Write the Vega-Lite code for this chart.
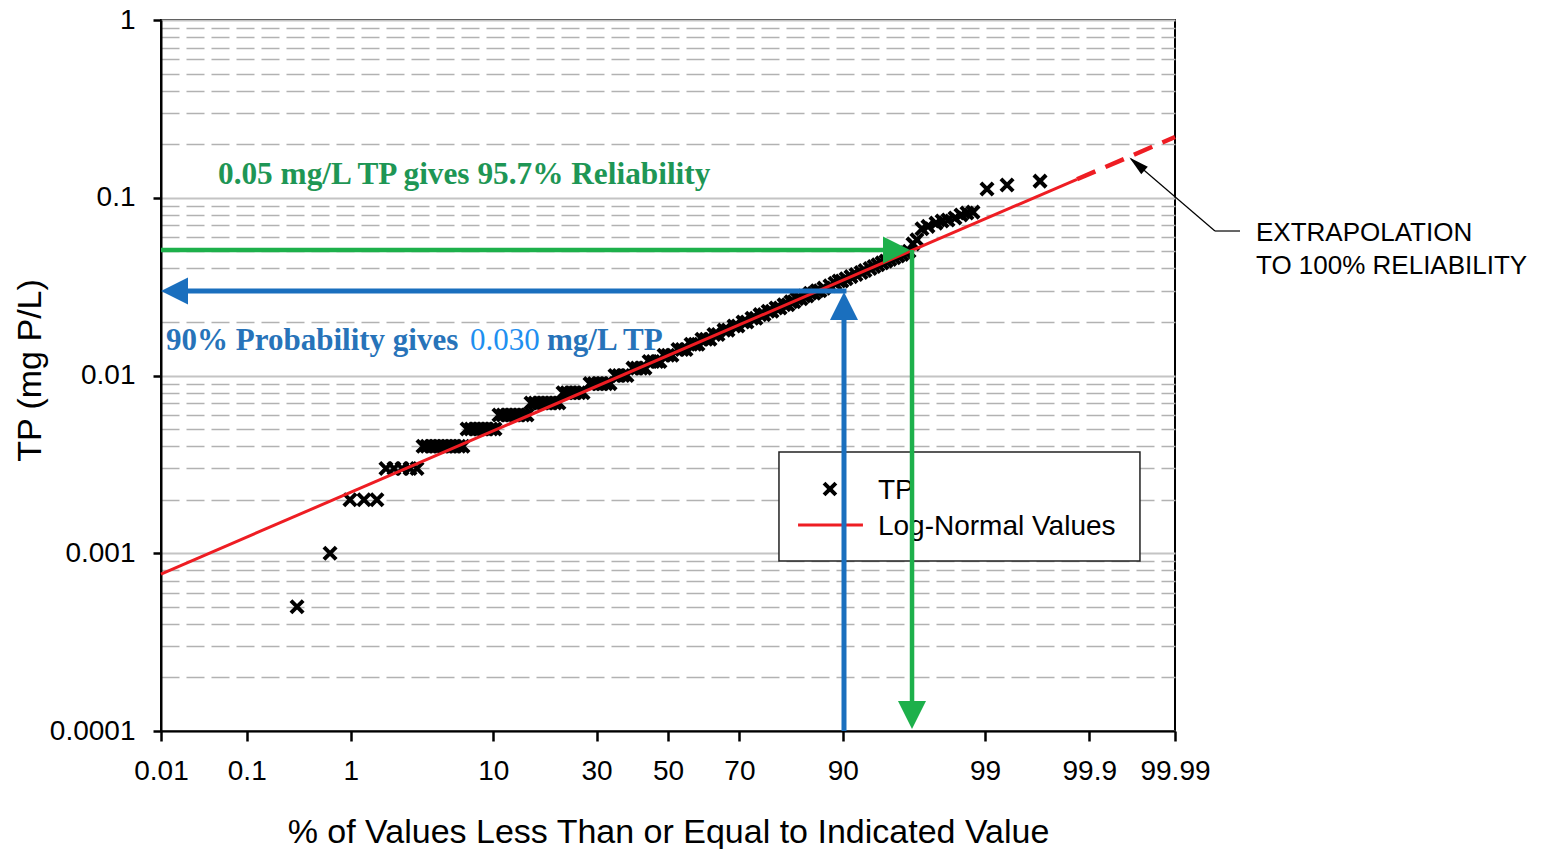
{
"$schema": "https://vega.github.io/schema/vega-lite/v6.json",
"width": 1014, "height": 711,
"autosize": {"type": "none"},
"padding": {"left": 161, "top": 20, "right": 376, "bottom": 118},
"background": "white",
"config": {"view": {"stroke": "black", "strokeWidth": 2}},
"datasets": {
"tp": [
{"z":-2.721,"tp":0.0005},{"z":-2.479,"tp":0.001},
{"z":-2.333,"tp":0.002},{"z":-2.230,"tp":0.002},{"z":-2.135,"tp":0.002},
{"z":-2.069,"tp":0.003},{"z":-2.010,"tp":0.003},{"z":-1.951,"tp":0.003},{"z":-1.892,"tp":0.003},{"z":-1.841,"tp":0.003},
{"z":-1.797,"tp":0.004},{"z":-1.768,"tp":0.004},{"z":-1.738,"tp":0.004},{"z":-1.709,"tp":0.004},{"z":-1.680,"tp":0.004},{"z":-1.650,"tp":0.004},{"z":-1.621,"tp":0.004},{"z":-1.592,"tp":0.004},{"z":-1.562,"tp":0.004},{"z":-1.533,"tp":0.004},{"z":-1.504,"tp":0.004},
{"z":-1.474,"tp":0.005},{"z":-1.445,"tp":0.005},{"z":-1.416,"tp":0.005},{"z":-1.386,"tp":0.005},{"z":-1.357,"tp":0.005},{"z":-1.328,"tp":0.005},{"z":-1.298,"tp":0.005},{"z":-1.269,"tp":0.005},
{"z":-1.240,"tp":0.006},{"z":-1.210,"tp":0.006},{"z":-1.181,"tp":0.006},{"z":-1.152,"tp":0.006},{"z":-1.122,"tp":0.006},{"z":-1.093,"tp":0.006},{"z":-1.064,"tp":0.006},{"z":-1.034,"tp":0.006},
{"z":-1.005,"tp":0.007},{"z":-0.976,"tp":0.007},{"z":-0.946,"tp":0.007},{"z":-0.917,"tp":0.007},{"z":-0.888,"tp":0.007},{"z":-0.858,"tp":0.007},{"z":-0.829,"tp":0.007},{"z":-0.800,"tp":0.007},
{"z":-0.770,"tp":0.008},{"z":-0.741,"tp":0.008},{"z":-0.712,"tp":0.008},{"z":-0.682,"tp":0.008},{"z":-0.653,"tp":0.008},{"z":-0.623,"tp":0.008},
{"z":-0.572,"tp":0.009},{"z":-0.543,"tp":0.009},{"z":-0.513,"tp":0.009},{"z":-0.484,"tp":0.009},{"z":-0.455,"tp":0.009},{"z":-0.425,"tp":0.009},
{"z":-0.389,"tp":0.010},{"z":-0.359,"tp":0.010},{"z":-0.330,"tp":0.010},{"z":-0.301,"tp":0.010},
{"z":-0.257,"tp":0.011},{"z":-0.227,"tp":0.011},{"z":-0.198,"tp":0.011},{"z":-0.169,"tp":0.011},
{"z":-0.139,"tp":0.012},{"z":-0.110,"tp":0.012},{"z":-0.081,"tp":0.012},{"z":-0.059,"tp":0.012},
{"z":-0.029,"tp":0.013},{"z":0.000,"tp":0.013},{"z":0.029,"tp":0.013},
{"z":0.073,"tp":0.014},{"z":0.103,"tp":0.014},{"z":0.132,"tp":0.014},
{"z":0.169,"tp":0.015},{"z":0.198,"tp":0.015},{"z":0.220,"tp":0.015},
{"z":0.249,"tp":0.016},{"z":0.279,"tp":0.016},{"z":0.308,"tp":0.016},
{"z":0.337,"tp":0.017},{"z":0.367,"tp":0.017},
{"z":0.411,"tp":0.018},{"z":0.440,"tp":0.018},
{"z":0.484,"tp":0.019},{"z":0.513,"tp":0.019},
{"z":0.550,"tp":0.020},{"z":0.579,"tp":0.020},
{"z":0.616,"tp":0.021},{"z":0.645,"tp":0.021},
{"z":0.675,"tp":0.022},{"z":0.704,"tp":0.022},
{"z":0.734,"tp":0.023},{"z":0.763,"tp":0.023},
{"z":0.792,"tp":0.024},{"z":0.822,"tp":0.024},
{"z":0.851,"tp":0.025},{"z":0.880,"tp":0.025},
{"z":0.902,"tp":0.026},{"z":0.924,"tp":0.026},
{"z":0.946,"tp":0.027},{"z":0.976,"tp":0.027},
{"z":0.998,"tp":0.028},{"z":1.020,"tp":0.028},
{"z":1.042,"tp":0.029},{"z":1.071,"tp":0.029},
{"z":1.093,"tp":0.030},{"z":1.115,"tp":0.030},
{"z":1.144,"tp":0.031},{"z":1.188,"tp":0.032},{"z":1.225,"tp":0.033},
{"z":1.254,"tp":0.034},{"z":1.276,"tp":0.034},
{"z":1.306,"tp":0.035},{"z":1.342,"tp":0.036},{"z":1.379,"tp":0.037},{"z":1.416,"tp":0.038},{"z":1.445,"tp":0.039},
{"z":1.482,"tp":0.040},{"z":1.511,"tp":0.041},{"z":1.540,"tp":0.042},{"z":1.570,"tp":0.043},{"z":1.599,"tp":0.044},
{"z":1.628,"tp":0.045},{"z":1.658,"tp":0.046},{"z":1.687,"tp":0.047},{"z":1.716,"tp":0.048},{"z":1.746,"tp":0.049},
{"z":1.768,"tp":0.050},{"z":1.797,"tp":0.055},{"z":1.826,"tp":0.058},
{"z":1.863,"tp":0.067},{"z":1.907,"tp":0.069},{"z":1.966,"tp":0.072},{"z":2.010,"tp":0.074},{"z":2.054,"tp":0.075},
{"z":2.105,"tp":0.077},{"z":2.149,"tp":0.080},{"z":2.193,"tp":0.082},{"z":2.237,"tp":0.083},
{"z":2.340,"tp":0.112},{"z":2.487,"tp":0.118},{"z":2.729,"tp":0.124}
],
"fit": [{"z":-3.719,"tp":0.000764},{"z":3.0,"tp":0.127}],
"fitext": [{"z":3.0,"tp":0.127},{"z":3.719,"tp":0.2197}]
},
"layer": [
{
"data": {"name": "tp"},
"mark": {"type": "point", "shape": "M-1,-1L1,1M-1,1L1,-1", "filled": false, "color": "black", "strokeWidth": 4, "size": 150, "opacity": 1},
"encoding": {
"x": {"field": "z", "type": "quantitative", "scale": {"domain": [-3.719, 3.719], "nice": false, "zero": false},
"axis": {"values": [-3.719,-3.09,-2.326,-1.282,-0.524,0,0.524,1.282,2.326,3.09,3.719],
"labelExpr": "datum.value < -3.5 ? '0.01' : datum.value < -2.8 ? '0.1' : datum.value < -2 ? '1' : datum.value < -1 ? '10' : datum.value < -0.3 ? '30' : datum.value < 0.3 ? '50' : datum.value < 1 ? '70' : datum.value < 2 ? '90' : datum.value < 2.8 ? '99' : datum.value < 3.5 ? '99.9' : '99.99'",
"grid": false, "domainColor": "black", "domainWidth": 2, "tickColor": "black", "tickWidth": 2.5, "tickSize": 10,
"labelFont": "Liberation Sans", "labelFontSize": 28, "labelColor": "black", "labelPadding": 16, "labelFlush": false, "labelOverlap": false, "labelBound": false,
"title": "% of Values Less Than or Equal to Indicated Value", "titleFont": "Liberation Sans", "titleFontSize": 34, "titleFontWeight": "normal", "titleColor": "black", "titleX": 507, "titleY": 111, "titleBaseline": "alphabetic", "titleAlign": "center"}},
"y": {"field": "tp", "type": "quantitative", "scale": {"type": "log", "domain": [0.0001, 1], "nice": false},
"axis": {"values": [0.0001,0.0002,0.0003,0.0004,0.0005,0.0006,0.0007,0.0008,0.0009,0.001,0.002,0.003,0.004,0.005,0.006,0.007,0.008,0.009,0.01,0.02,0.03,0.04,0.05,0.06,0.07,0.08,0.09,0.1,0.2,0.3,0.4,0.5,0.6,0.7,0.8,0.9,1],
"format": "~g",
"labelExpr": "indexof([0.0001,0.001,0.01,0.1,1], datum.value) >= 0 ? datum.label : ''",
"grid": true,
"gridColor": {"condition": {"test": "indexof([0.0001,0.001,0.01,0.1,1], datum.value) >= 0", "value": "#c4c4c4"}, "value": "#b2b2b2"},
"gridDash": {"condition": {"test": "indexof([0.0001,0.001,0.01,0.1,1], datum.value) >= 0", "value": []}, "value": [18, 7]},
"gridWidth": {"condition": {"test": "indexof([0.0001,0.001,0.01,0.1,1], datum.value) >= 0", "value": 2}, "value": 1.6},
"tickOpacity": {"condition": {"test": "indexof([0.0001,0.001,0.01,0.1,1], datum.value) >= 0", "value": 1}, "value": 0},
"tickSize": 8, "tickWidth": 2.5, "tickColor": "black", "domainColor": "black", "domainWidth": 2,
"labelFont": "Liberation Sans", "labelFontSize": 28, "labelColor": "black", "labelPadding": 18, "labelOverlap": false, "labelBound": false, "labelFlush": false,
"title": "TP (mg P/L)", "titleFont": "Liberation Sans", "titleFontSize": 34, "titleFontWeight": "normal", "titleColor": "black", "titleX": -121, "titleY": 350, "titleAngle": 270, "titleAlign": "center", "titleBaseline": "alphabetic"}}
}
},
{
"data": {"name": "fit"},
"mark": {"type": "line", "color": "#ee1d23", "strokeWidth": 3},
"encoding": {"x": {"field": "z", "type": "quantitative"}, "y": {"field": "tp", "type": "quantitative", "scale": {"type": "log"}}}
},
{
"data": {"name": "fitext"},
"mark": {"type": "line", "color": "#ee1d23", "strokeWidth": 4.5, "strokeDash": [20, 11]},
"encoding": {"x": {"field": "z", "type": "quantitative"}, "y": {"field": "tp", "type": "quantitative", "scale": {"type": "log"}}}
},
{
"data": {"values": [{}]},
"mark": {"type": "rect", "fill": "white", "stroke": "#222222", "strokeWidth": 1.5},
"encoding": {"x": {"datum": 0.814, "type": "quantitative"}, "x2": {"datum": 3.462}, "y": {"datum": 0.003712, "type": "quantitative", "scale": {"type": "log"}}, "y2": {"datum": 0.000904}}
},
{
"data": {"values": [{}]},
"mark": {"type": "point", "shape": "M-1,-1L1,1M-1,1L1,-1", "filled": false, "color": "black", "strokeWidth": 4, "size": 140, "opacity": 1},
"encoding": {"x": {"datum": 1.188, "type": "quantitative"}, "y": {"datum": 0.002298, "type": "quantitative", "scale": {"type": "log"}}}
},
{
"data": {"values": [{}]},
"mark": {"type": "rule", "color": "#ee1d23", "strokeWidth": 3},
"encoding": {"x": {"datum": 0.954, "type": "quantitative"}, "x2": {"datum": 1.430}, "y": {"datum": 0.001442, "type": "quantitative", "scale": {"type": "log"}}}
},
{
"data": {"values": [{}]},
"mark": {"type": "text", "text": "TP", "font": "Liberation Sans", "fontSize": 28, "color": "black", "align": "left", "baseline": "alphabetic"},
"encoding": {"x": {"datum": 1.540, "type": "quantitative"}, "y": {"datum": 0.002019, "type": "quantitative", "scale": {"type": "log"}}}
},
{
"data": {"values": [{}]},
"mark": {"type": "text", "text": "Log-Normal Values", "font": "Liberation Sans", "fontSize": 28, "color": "black", "align": "left", "baseline": "alphabetic"},
"encoding": {"x": {"datum": 1.540, "type": "quantitative"}, "y": {"datum": 0.001267, "type": "quantitative", "scale": {"type": "log"}}}
},
{
"data": {"values": [{}]},
"mark": {"type": "rule", "color": "#1a6fbe", "strokeWidth": 5},
"encoding": {"x": {"datum": 1.291, "type": "quantitative"}, "y": {"datum": 0.0001, "type": "quantitative", "scale": {"type": "log"}}, "y2": {"datum": 0.02336}}
},
{
"data": {"values": [{}]},
"mark": {"type": "rule", "color": "#1a6fbe", "strokeWidth": 5},
"encoding": {"x": {"datum": -3.580, "type": "quantitative"}, "x2": {"datum": 1.309}, "y": {"datum": 0.0299, "type": "quantitative", "scale": {"type": "log"}}}
},
{
"data": {"values": [{}]},
"mark": {"type": "point", "shape": "M0,-1L1,1L-1,1Z", "filled": true, "color": "#1a6fbe", "size": 784, "opacity": 1},
"encoding": {"x": {"datum": 1.291, "type": "quantitative"}, "y": {"datum": 0.0246, "type": "quantitative", "scale": {"type": "log"}}}
},
{
"data": {"values": [{}]},
"mark": {"type": "point", "shape": "M-1,0L1,-1L1,1Z", "filled": true, "color": "#1a6fbe", "size": 729, "opacity": 1},
"encoding": {"x": {"datum": -3.620, "type": "quantitative"}, "y": {"datum": 0.0299, "type": "quantitative", "scale": {"type": "log"}}}
},
{
"data": {"values": [{}]},
"mark": {"type": "rule", "color": "#1db04b", "strokeWidth": 4.5},
"encoding": {"x": {"datum": -3.719, "type": "quantitative"}, "x2": {"datum": 1.592}, "y": {"datum": 0.0508, "type": "quantitative", "scale": {"type": "log"}}}
},
{
"data": {"values": [{}]},
"mark": {"type": "rule", "color": "#1db04b", "strokeWidth": 4.5},
"encoding": {"x": {"datum": 1.790, "type": "quantitative"}, "y": {"datum": 0.0508, "type": "quantitative", "scale": {"type": "log"}}, "y2": {"datum": 0.000140}}
},
{
"data": {"values": [{}]},
"mark": {"type": "point", "shape": "M1,0L-1,-1L-1,1Z", "filled": true, "color": "#1db04b", "size": 729, "opacity": 1},
"encoding": {"x": {"datum": 1.676, "type": "quantitative"}, "y": {"datum": 0.0508, "type": "quantitative", "scale": {"type": "log"}}}
},
{
"data": {"values": [{}]},
"mark": {"type": "point", "shape": "M0,1L1,-1L-1,-1Z", "filled": true, "color": "#1db04b", "size": 784, "opacity": 1},
"encoding": {"x": {"datum": 1.790, "type": "quantitative"}, "y": {"datum": 0.000123, "type": "quantitative", "scale": {"type": "log"}}}
},
{
"data": {"values": [{}]},
"mark": {"type": "rule", "color": "black", "strokeWidth": 1.2},
"encoding": {"x": {"datum": 4.012, "type": "quantitative"}, "x2": {"datum": 4.196}, "y": {"datum": 0.065, "type": "quantitative", "scale": {"type": "log"}}}
},
{
"data": {"values": [{}]},
"mark": {"type": "rule", "color": "black", "strokeWidth": 1.2},
"encoding": {"x": {"datum": 4.012, "type": "quantitative"}, "x2": {"datum": 3.396}, "y": {"datum": 0.065, "type": "quantitative", "scale": {"type": "log"}}, "y2": {"datum": 0.1652}}
},
{
"data": {"values": [{}]},
"mark": {"type": "point", "shape": "M0,-1L0.5,1L-0.5,1Z", "filled": true, "color": "black", "size": 400, "angle": 311, "opacity": 1},
"encoding": {"x": {"datum": 3.440, "type": "quantitative"}, "y": {"datum": 0.1548, "type": "quantitative", "scale": {"type": "log"}}}
},
{
"data": {"values": [{}]},
"mark": {"type": "text", "text": "0.05 mg/L TP gives 95.7% Reliability", "font": "Liberation Serif", "fontWeight": "bold", "fontSize": 31.3, "color": "#1e9655", "align": "left", "baseline": "alphabetic"},
"encoding": {"x": {"datum": -3.301, "type": "quantitative"}, "y": {"datum": 0.1195, "type": "quantitative", "scale": {"type": "log"}}}
},
{
"data": {"values": [{}]},
"mark": {"type": "text", "text": "90% Probability gives", "font": "Liberation Serif", "fontWeight": "bold", "fontSize": 31, "color": "#2773b9", "align": "left", "baseline": "alphabetic"},
"encoding": {"x": {"datum": -3.682, "type": "quantitative"}, "y": {"datum": 0.01391, "type": "quantitative", "scale": {"type": "log"}}}
},
{
"data": {"values": [{}]},
"mark": {"type": "text", "text": "0.030", "font": "Liberation Serif", "fontWeight": "normal", "fontSize": 31, "color": "#1e8ff0", "align": "left", "baseline": "alphabetic"},
"encoding": {"x": {"datum": -1.452, "type": "quantitative"}, "y": {"datum": 0.01391, "type": "quantitative", "scale": {"type": "log"}}}
},
{
"data": {"values": [{}]},
"mark": {"type": "text", "text": "mg/L TP", "font": "Liberation Serif", "fontWeight": "bold", "fontSize": 31, "color": "#2773b9", "align": "left", "baseline": "alphabetic"},
"encoding": {"x": {"datum": -0.888, "type": "quantitative"}, "y": {"datum": 0.01391, "type": "quantitative", "scale": {"type": "log"}}}
},
{
"data": {"values": [{}]},
"mark": {"type": "text", "text": ["EXTRAPOLATION", "TO 100% RELIABILITY"], "lineHeight": 33.3, "font": "Liberation Sans", "fontSize": 26, "color": "black", "align": "left", "baseline": "alphabetic"},
"encoding": {"x": {"datum": 4.313, "type": "quantitative"}, "y": {"datum": 0.05733, "type": "quantitative", "scale": {"type": "log"}}}
}
]
}
